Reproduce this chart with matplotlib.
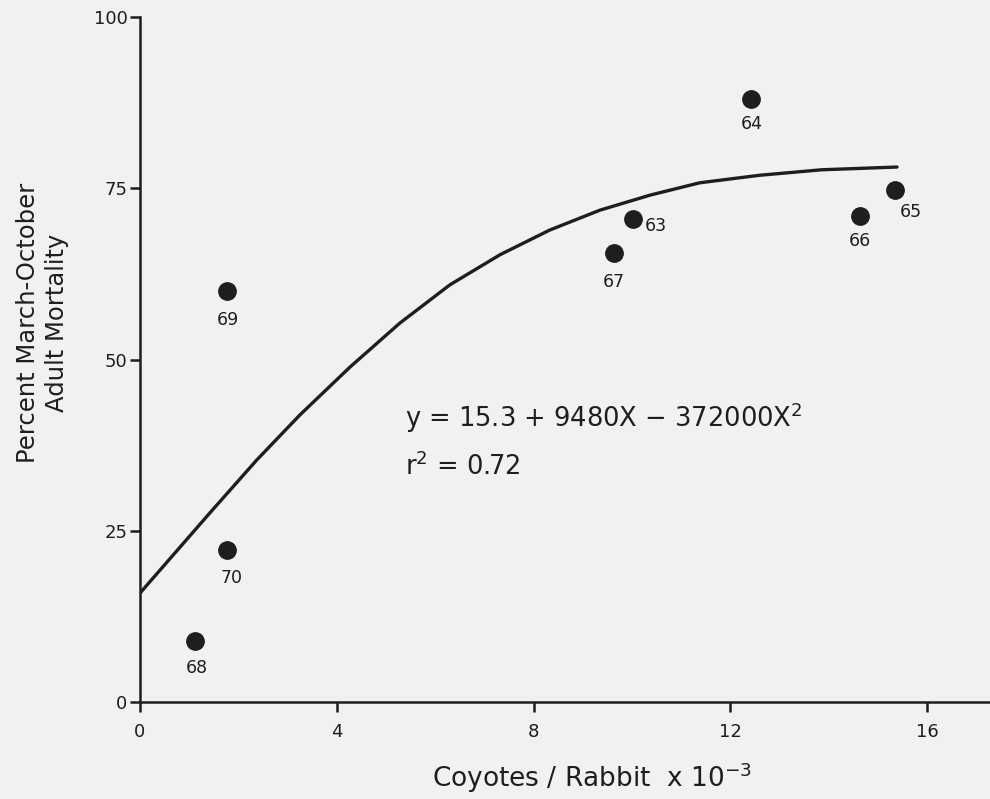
import matplotlib
matplotlib.use("Agg")
import matplotlib.pyplot as plt

# ---- data ----
YEARS = ["63", "64", "65", "66", "67", "68", "69", "70"]
COY_PER_RABBIT = [10.02, 12.43, 15.35, 14.63, 9.63, 1.12, 1.76, 1.76]   # x 10^-3
MORTALITY = [70.5, 88.0, 74.7, 70.9, 65.5, 8.9, 60.0, 22.2]             # percent

# fitted curve as drawn (traced points)
CURVE_X = [0, 1.42, 2.37, 3.25, 4.27, 5.28, 6.30, 7.32, 8.33, 9.35,
           10.37, 11.38, 12.6, 13.86, 15.39]
CURVE_Y = [15.9, 27.6, 35.3, 41.9, 48.9, 55.3, 60.9, 65.3, 68.9, 71.8,
           74.0, 75.8, 76.9, 77.7, 78.1]

X_TICKS = [0, 4, 8, 12, 16]
Y_TICKS = [0, 25, 50, 75, 100]

# label placement (pixels from each dot)
LABEL_OFFSET = {"63": (23, -7), "64": (0, -25), "65": (16, -22), "66": (0, -25),
                "67": (0, -29), "68": (2, -27), "69": (1, -29), "70": (5, -28)}

INK = "#1e1e1e"
PAPER = "#f1f1f1"

plt.rcParams["font.family"] = ["DejaVu Sans"]

fig = plt.figure(figsize=(9.9, 7.99), dpi=100, facecolor=PAPER)
ax = fig.add_axes([0.1414, 0.1214, 0.8586, 0.8573])
ax.set_facecolor(PAPER)

ax.plot(CURVE_X, CURVE_Y, color=INK, lw=2.4, solid_capstyle="round",
        solid_joinstyle="round", zorder=2)
ax.plot(COY_PER_RABBIT, MORTALITY, "o", color=INK, ms=12.5, zorder=3)
for yr, x, y in zip(YEARS, COY_PER_RABBIT, MORTALITY):
    ax.annotate(yr, (x, y), xytext=LABEL_OFFSET[yr], textcoords="offset pixels",
                ha="center", va="center", fontsize=12.5, color=INK)

ax.set_xlim(0, 17.28)
ax.set_ylim(0, 100)
ax.set_xticks(X_TICKS)
ax.set_yticks(Y_TICKS)
for s in ["top", "right"]:
    ax.spines[s].set_visible(False)
for s in ["left", "bottom"]:
    ax.spines[s].set_linewidth(1.8)
    ax.spines[s].set_color(INK)
ax.tick_params(axis="both", direction="out", length=7, width=1.8, color=INK,
               labelsize=13, labelcolor=INK)
ax.tick_params(axis="x", pad=8)
ax.tick_params(axis="y", pad=2)

ax.set_xlabel(r"Coyotes / Rabbit  x 10$^{-3}$", fontsize=19, color=INK)
ax.xaxis.set_label_coords(0.532, -0.085)
ax.set_ylabel("Percent March-October\nAdult Mortality", fontsize=17.5, color=INK,
              linespacing=1.3)
ax.yaxis.set_label_coords(-0.083, 0.553)

ax.text(5.39, 41.5, r"y = 15.3 + 9480X $-$ 372000X$^2$", fontsize=18.5, color=INK,
        ha="left", va="center")
ax.text(5.39, 34.4, r"r$^2$ = 0.72", fontsize=18.5, color=INK, ha="left", va="center")

fig.savefig("out.png", dpi=100, facecolor=PAPER)
